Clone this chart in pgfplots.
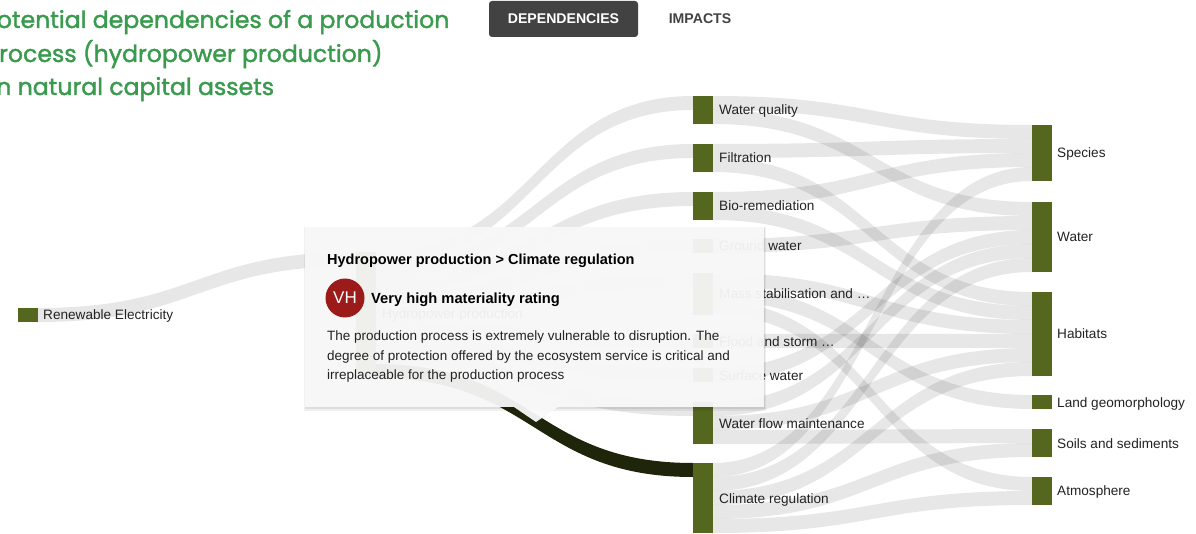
\documentclass[border=0pt]{standalone}
\usepackage{fontspec}
\setmainfont{Liberation Sans}
\newfontfamily\titlefont{Poppins}[FakeBold=1.6]
\usepackage{pgfplots}
\pgfplotsset{compat=1.18}
\definecolor{nodecol}{HTML}{55661E}
\definecolor{darklink}{HTML}{1F250A}
\definecolor{titlegreen}{HTML}{3A9A4E}
\definecolor{txt}{HTML}{222222}
\definecolor{btn}{HTML}{424242}
\definecolor{vh}{HTML}{9B1B1B}
\definecolor{boxcol}{HTML}{FAFAFA}
% band: #1 colour, #2 opacity, #3 x0, #4 xm, #5 x1, #6 y at source, #7 y at target (band 14 units thick)
\newcommand\band[7]{%
  \fill[#1, fill opacity=#2] (axis cs:#3,#6) .. controls (axis cs:#4,#6) and (axis cs:#4,#7) .. (axis cs:#5,#7)
    -- (axis cs:#5,{#7+14}) .. controls (axis cs:#4,{#7+14}) and (axis cs:#4,{#6+14}) .. (axis cs:#3,{#6+14}) -- cycle;}
\newcommand\gl[5]{\band{black}{0.095}{#1}{#2}{#3}{#4}{#5}}
\newcommand\nbar[3]{\addplot[fill=nodecol, draw=none, forget plot] coordinates {(#1,#2) ({#1+20},#2) ({#1+20},#3) (#1,#3)} -- cycle;}
\newcommand\lab[3]{\node[anchor=base west, text=txt, font=\fontsize{13.6}{16}\selectfont, inner sep=0pt] at (axis cs:#1,{#2+5}) {#3};}
\begin{document}
\begin{tikzpicture}
\begin{axis}[scale only axis, width=1196pt, height=534pt, xmin=0, xmax=1196, ymin=0, ymax=534,
  y dir=reverse, hide axis, clip=false]
% ---- grey links
% Renewable -> Hydropower
\gl{38}{197}{356}{308}{252}
% Hydropower -> services
\gl{376}{534.5}{693}{252}{96}
\gl{376}{534.5}{693}{266}{144}
\gl{376}{534.5}{693}{280}{192}
\gl{376}{534.5}{693}{294}{239}
\gl{376}{534.5}{693}{308}{273}
\gl{376}{534.5}{693}{322}{334}
\gl{376}{534.5}{693}{336}{368}
\gl{376}{534.5}{693}{350}{402}
% services -> assets
\gl{713}{872.5}{1032}{96}{125}
\gl{713}{872.5}{1032}{110}{202}
\gl{713}{872.5}{1032}{144}{139}
\gl{713}{872.5}{1032}{158}{292}
\gl{713}{872.5}{1032}{192}{153}
\gl{713}{872.5}{1032}{206}{306}
\gl{713}{872.5}{1032}{239}{216}
\gl{713}{872.5}{1032}{273}{320}
\gl{713}{872.5}{1032}{287}{395}
\gl{713}{872.5}{1032}{301}{477}
\gl{713}{872.5}{1032}{334}{334}
\gl{713}{872.5}{1032}{368}{230}
\gl{713}{872.5}{1032}{402}{244}
\gl{713}{872.5}{1032}{416}{348}
\gl{713}{872.5}{1032}{430}{429}
\gl{713}{872.5}{1032}{463}{167}
\gl{713}{872.5}{1032}{477}{258}
\gl{713}{872.5}{1032}{491}{362}
\gl{713}{872.5}{1032}{505}{443}
\gl{713}{872.5}{1032}{519}{491}
% highlighted link
\band{darklink}{1}{376}{534.5}{693}{364}{463}
% ---- nodes
\nbar{18}{308}{322}
\nbar{356}{252}{378}
\nbar{693}{96}{124}
\nbar{693}{144}{172}
\nbar{693}{192}{220}
\nbar{693}{239}{253}
\nbar{693}{273}{315}
\nbar{693}{334}{348}
\nbar{693}{368}{382}
\nbar{693}{402}{444}
\nbar{693}{463}{533}
\nbar{1032}{125}{181}
\nbar{1032}{202}{272}
\nbar{1032}{292}{376}
\nbar{1032}{395}{409}
\nbar{1032}{429}{457}
\nbar{1032}{477}{505}
% ---- labels
\lab{43}{315}{Renewable Electricity}
\lab{382}{314}{Hydropower production}
\lab{719}{110}{Water quality}
\lab{719}{158}{Filtration}
\lab{719}{206}{Bio-remediation}
\lab{719}{246}{Ground water}
\lab{719}{294}{Mass stabilisation and …}
\lab{719}{341}{Flood and storm …}
\lab{719}{375}{Surface water}
\lab{719}{423}{Water flow maintenance}
\lab{719}{498}{Climate regulation}
\lab{1057}{153}{Species}
\lab{1057}{237}{Water}
\lab{1057}{333}{Habitats}
\lab{1057}{402}{Land geomorphology}
\lab{1057}{443}{Soils and sediments}
\lab{1057}{490}{Atmosphere}
% ---- title
\node[anchor=base west, text=titlegreen, font=\titlefont\fontsize{23.6}{28}\selectfont, inner sep=0pt] at (axis cs:-17,28) {Potential dependencies of a production};
\node[anchor=base west, text=titlegreen, font=\titlefont\fontsize{23.6}{28}\selectfont, inner sep=0pt] at (axis cs:-17,62) {process (hydropower production)};
\node[anchor=base west, text=titlegreen, font=\titlefont\fontsize{23.6}{28}\selectfont, inner sep=0pt] at (axis cs:-19,95) {on natural capital assets};
% ---- buttons
\fill[btn, rounded corners=3pt] (axis cs:489,1) rectangle (axis cs:638,37);
\node[text=white, font=\bfseries\fontsize{14.1}{16}\selectfont, inner sep=0pt, anchor=base] at (axis cs:563.5,24) {DEPENDENCIES};
\node[text=btn, font=\bfseries\fontsize{14.1}{16}\selectfont, inner sep=0pt, anchor=base] at (axis cs:700,24) {IMPACTS};
% ---- tooltip
\fill[black, opacity=0.06] (axis cs:304,227) rectangle (axis cs:766,411);
\fill[black, opacity=0.08] (axis cs:305,228) rectangle (axis cs:765,409);
\fill[boxcol, fill opacity=0.94] (axis cs:305,227) rectangle (axis cs:764,407);
\fill[boxcol, fill opacity=0.94] (axis cs:514,407) -- (axis cs:536,422) -- (axis cs:558,407) -- cycle;
\node[anchor=base west, text=black, font=\bfseries\fontsize{14.5}{17}\selectfont, inner sep=0pt] at (axis cs:327,265) {Hydropower production > Climate regulation};
\fill[vh] (axis cs:345,298) circle[radius=19.5pt];
\node[text=white, font=\fontsize{17}{20}\selectfont, inner sep=0pt] at (axis cs:345,298) {VH};
\node[anchor=base west, text=black, font=\bfseries\fontsize{14.7}{17}\selectfont, inner sep=0pt] at (axis cs:371,303.5) {Very high materiality rating};
\node[anchor=base west, text=txt, font=\fontsize{13.5}{19}\selectfont, inner sep=0pt, align=left] at (axis cs:327,341) {The production process is extremely vulnerable to disruption. The};
\node[anchor=base west, text=txt, font=\fontsize{13.5}{19}\selectfont, inner sep=0pt, align=left] at (axis cs:327,360) {degree of protection offered by the ecosystem service is critical and};
\node[anchor=base west, text=txt, font=\fontsize{13.5}{19}\selectfont, inner sep=0pt, align=left] at (axis cs:327,379) {irreplaceable for the production process};
\end{axis}
\pgfresetboundingbox
\path[use as bounding box] (current axis.south west) rectangle (current axis.north east);
\end{tikzpicture}
\end{document}
